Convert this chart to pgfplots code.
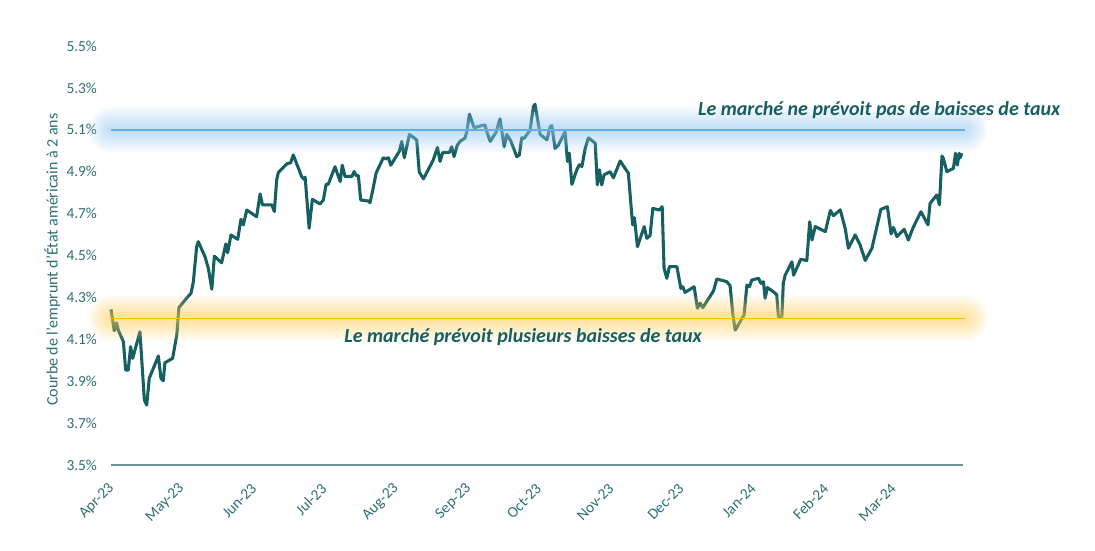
\documentclass[border=0pt]{standalone}
\usepackage{pgfplots}
\pgfplotsset{compat=1.18}
\usepackage{pgfplotstable}
\usepackage{fontspec}
\setmainfont{Carlito}

\definecolor{yieldline}{RGB}{23,96,98}
\definecolor{ticktext}{RGB}{45,112,116}
\definecolor{axisgrey}{RGB}{110,145,147}
\definecolor{bluemark}{RGB}{100,175,230}
\definecolor{blueglow}{RGB}{150,200,240}
\definecolor{goldmark}{RGB}{255,190,0}
\definecolor{goldglow}{RGB}{255,205,90}
\definecolor{notetext}{RGB}{24,94,96}

% 2-year US Treasury yield (%), x = days since 1 April 2023
\pgfplotstableread{
day value
0 4.243
1.4 4.141
2.4 4.179
3.1 4.144
5.3 4.089
6.3 3.953
7.4 3.953
8.4 4.065
9.3 4.009
12.4 4.136
14.3 3.810
15.3 3.786
16.4 3.914
20.3 4.020
21.4 3.914
22.4 3.902
23.1 3.988
26.4 4.009
28.2 4.121
29.1 4.251
32.4 4.296
34.3 4.320
35.3 4.375
36.7 4.542
37.4 4.566
40.3 4.494
41.7 4.439
43.2 4.339
44.3 4.497
47.4 4.465
49.2 4.555
50.0 4.513
51.4 4.598
54.3 4.577
55.7 4.673
56.7 4.646
58.2 4.717
62.4 4.685
63.9 4.794
64.9 4.742
68.9 4.742
70.0 4.710
71.0 4.861
71.7 4.896
75.3 4.937
77.0 4.943
78.1 4.980
81.7 4.877
82.7 4.864
83.2 4.874
84.9 4.630
86.3 4.768
89.6 4.746
91.0 4.765
92.2 4.840
93.1 4.840
96.0 4.924
98.2 4.853
99.1 4.931
100.3 4.877
103.2 4.877
104.2 4.901
105.0 4.882
106.0 4.882
107.0 4.765
110.3 4.760
111.0 4.752
112.2 4.813
113.6 4.893
116.7 4.967
117.9 4.961
118.9 4.967
119.9 4.931
123.6 4.998
124.6 5.045
125.7 4.967
127.9 5.078
131.0 5.052
132.1 4.898
133.9 4.866
138.1 4.956
139.9 5.016
141.0 4.949
142.2 4.992
145.0 4.992
146.0 5.019
147.0 4.972
148.4 5.027
149.6 5.045
151.7 5.061
152.5 5.092
153.6 5.174
155.6 5.110
158.9 5.120
160.3 5.123
161.0 5.092
162.5 5.045
165.0 5.088
166.7 5.152
168.5 5.019
169.6 5.078
171.3 5.047
173.9 4.972
175.0 4.980
176.0 5.062
177.0 5.059
179.6 5.099
181.0 5.210
181.7 5.222
183.9 5.078
186.8 5.052
188.2 5.115
188.9 5.120
190.3 5.011
191.7 5.027
194.6 5.091
195.6 4.949
196.4 4.989
197.5 4.840
199.6 4.909
200.7 4.933
201.8 4.925
203.2 5.011
204.6 5.062
207.5 5.036
208.4 4.837
209.3 4.909
210.3 4.837
211.3 4.885
213.9 4.900
215.3 4.871
218.2 4.951
221.7 4.893
223.2 4.691
223.6 4.646
224.3 4.681
225.6 4.542
228.5 4.638
229.6 4.582
231.0 4.595
232.2 4.725
235.0 4.717
236.2 4.733
237.0 4.439
238.2 4.391
239.3 4.447
242.5 4.447
244.2 4.343
245.0 4.351
246.0 4.324
249.9 4.351
251.3 4.248
252.5 4.272
253.6 4.251
258.2 4.331
259.6 4.388
263.9 4.375
265.3 4.356
266.5 4.216
267.5 4.144
270.3 4.197
271.3 4.216
272.5 4.359
273.6 4.351
274.6 4.383
277.5 4.391
278.5 4.367
279.6 4.375
280.3 4.296
281.3 4.347
284.2 4.324
285.3 4.312
286.0 4.208
287.5 4.208
288.1 4.367
288.9 4.406
291.8 4.470
292.5 4.406
295.6 4.482
298.2 4.476
299.4 4.661
300.4 4.574
301.8 4.638
306.1 4.614
308.3 4.715
309.6 4.690
312.5 4.718
314.6 4.630
316.0 4.535
318.9 4.598
321.0 4.551
323.2 4.476
326.1 4.535
329.9 4.720
332.7 4.733
334.3 4.603
335.3 4.634
336.8 4.590
339.9 4.625
341.7 4.574
343.6 4.630
347.1 4.709
350.1 4.646
351.0 4.749
353.9 4.789
355.0 4.742
356.1 4.975
356.7 4.964
358.2 4.900
361.0 4.916
361.9 4.988
362.7 4.932
363.5 4.988
363.9 4.967
364.6 4.988
}\yieldtable

\begin{document}
\begin{tikzpicture}
\path[use as bounding box] (0,0) rectangle (821.25pt,412.5pt);
\begin{axis}[
  at={(83.25pt,63.75pt)}, anchor=south west,
  scale only axis, width=638.8pt, height=314.25pt,
  xmin=0, xmax=365, ymin=3.5, ymax=5.5,
  clip=false,
  axis x line*=bottom, axis y line*=left,
  x axis line style={draw=axisgrey, line width=1.1pt},
  y axis line style={draw=none},
  major tick length=0pt,
  tick style={draw=none},
  font=\fontsize{11.5pt}{13pt}\selectfont,
  ytick={3.5,3.7,3.9,4.1,4.3,4.5,4.7,4.9,5.1,5.3,5.5},
  yticklabels={3.5\%,3.7\%,3.9\%,4.1\%,4.3\%,4.5\%,4.7\%,4.9\%,5.1\%,5.3\%,5.5\%},
  yticklabel style={text=ticktext, anchor=east, xshift=-7pt},
  xtick={0,30,61,91,122,153,183,214,244,275,306,335},
  xticklabels={Apr-23,May-23,Jun-23,Jul-23,Aug-23,Sep-23,Oct-23,Nov-23,Dec-23,Jan-24,Feb-24,Mar-24},
  xticklabel style={text=ticktext, xshift=3pt, yshift=-13.5pt, rotate=45, anchor=east},
  ylabel={Courbe de l’emprunt d’État américain à 2 ans},
  ylabel style={text=ticktext, font=\fontsize{12pt}{14pt}\selectfont,
    at={(axis description cs:-0.069,0.49)}, anchor=center},
]
% yield series
\addplot[yieldline, line width=2.3pt, line join=round] table[x=day, y=value] {\yieldtable};

% soft glow around the 5.1% reference level
\addplot[blueglow, line width=34pt, opacity=0.08, line cap=round] coordinates {(0,5.1) (366,5.1)};
\addplot[blueglow, line width=30pt, opacity=0.08, line cap=round] coordinates {(0,5.1) (366,5.1)};
\addplot[blueglow, line width=26pt, opacity=0.09, line cap=round] coordinates {(0,5.1) (366,5.1)};
\addplot[blueglow, line width=22pt, opacity=0.09, line cap=round] coordinates {(0,5.1) (366,5.1)};
\addplot[blueglow, line width=18pt, opacity=0.10, line cap=round] coordinates {(0,5.1) (366,5.1)};
\addplot[blueglow, line width=14pt, opacity=0.10, line cap=round] coordinates {(0,5.1) (366,5.1)};
\addplot[blueglow, line width=10pt, opacity=0.11, line cap=round] coordinates {(0,5.1) (366,5.1)};
\addplot[blueglow, line width=6pt, opacity=0.11, line cap=round] coordinates {(0,5.1) (366,5.1)};
\addplot[bluemark, line width=1.1pt] coordinates {(0,5.1) (366,5.1)};

% soft glow around the 4.2% reference level
\addplot[goldglow, line width=34pt, opacity=0.08, line cap=round] coordinates {(0,4.2) (366,4.2)};
\addplot[goldglow, line width=30pt, opacity=0.08, line cap=round] coordinates {(0,4.2) (366,4.2)};
\addplot[goldglow, line width=26pt, opacity=0.09, line cap=round] coordinates {(0,4.2) (366,4.2)};
\addplot[goldglow, line width=22pt, opacity=0.09, line cap=round] coordinates {(0,4.2) (366,4.2)};
\addplot[goldglow, line width=18pt, opacity=0.10, line cap=round] coordinates {(0,4.2) (366,4.2)};
\addplot[goldglow, line width=14pt, opacity=0.10, line cap=round] coordinates {(0,4.2) (366,4.2)};
\addplot[goldglow, line width=10pt, opacity=0.11, line cap=round] coordinates {(0,4.2) (366,4.2)};
\addplot[goldglow, line width=6pt, opacity=0.11, line cap=round] coordinates {(0,4.2) (366,4.2)};
\addplot[goldmark, line width=1.1pt] coordinates {(0,4.2) (366,4.2)};

\node[text=notetext, font=\fontsize{15pt}{17pt}\selectfont\bfseries\itshape]
  at (axis cs:329.2,5.195) {Le marché ne prévoit pas de baisses de taux};
\node[text=notetext, font=\fontsize{15pt}{17pt}\selectfont\bfseries\itshape]
  at (axis cs:176.6,4.111) {Le marché prévoit plusieurs baisses de taux};
\end{axis}
\end{tikzpicture}
\end{document}
